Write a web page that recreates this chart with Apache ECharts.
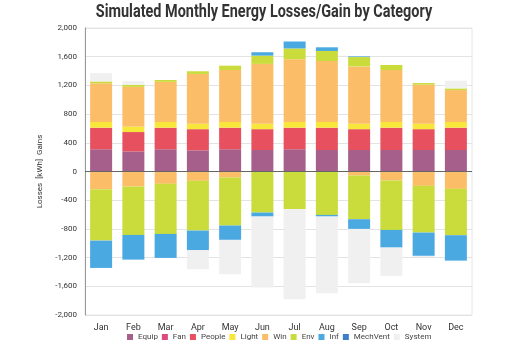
<!DOCTYPE html>
<html>
<head>
<meta charset="utf-8">
<script src="https://cdn.jsdelivr.net/npm/echarts@6/dist/echarts.min.js"></script>
<style>
  html, body { margin: 0; padding: 0; background: #fff; }
  #chart { width: 525px; height: 350px; }
</style>
</head>
<body>
<div id="chart"></div>
<script>
const months = ['Jan', 'Feb', 'Mar', 'Apr', 'May', 'Jun', 'Jul', 'Aug', 'Sep', 'Oct', 'Nov', 'Dec']
const yTicks = [-2000, -1600, -1200, -800, -400, 0, 400, 800, 1200, 1600, 2000]

// gains (kWh)
const equip = [310, 280, 310, 295, 310, 300, 310, 300, 300, 300, 300, 300]
const fan = [0, 0, 0, 0, 0, 0, 0, 0, 0, 0, 0, 0]
const people = [300, 270, 300, 295, 300, 290, 300, 310, 290, 310, 290, 310]
const light = [80, 75, 80, 75, 80, 75, 80, 80, 75, 80, 75, 80]
const winGain = [540, 555, 560, 695, 725, 835, 875, 850, 800, 725, 545, 445]
const envGain = [25, 28, 25, 37, 60, 115, 150, 140, 130, 70, 23, 23]
const infGain = [0, 0, 0, 0, 0, 47, 97, 51, 9, 0, 0, 0]
const mechVentGain = [0, 0, 0, 0, 0, 0, 0, 0, 0, 0, 0, 0]
const systemGain = [117, 51, 0, 0, 0, 0, 0, 0, 0, 0, 0, 108]

// losses (kWh)
const winLoss = [-246, -209, -172, -130, -84, 0, 0, 0, -56, -126, -200, -242]
const envLoss = [-717, -675, -698, -693, -669, -572, -525, -605, -609, -688, -651, -646]
const infLoss = [-381, -344, -334, -274, -200, -56, 0, -23, -135, -246, -325, -354]
const mechVentLoss = [0, 0, 0, 0, 0, 0, 0, 0, 0, 0, 0, 0]
const systemLoss = [0, 0, 0, -265, -479, -990, -1256, -1069, -758, -395, -15, 0]

const colors = {
  Equip: '#a65e8b',
  Fan: '#de4a80',
  People: '#e7505f',
  Light: '#f7e73a',
  Win: '#fbbd68',
  Env: '#c9dc3c',
  Inf: '#4aa9e0',
  MechVent: '#3d7fc6',
  System: '#f0f0f0'
}

const bar = (name, data) => ({
  name: name,
  type: 'bar',
  stack: 'energy',
  barWidth: 22,
  data: data,
  itemStyle: { color: colors[name] }
})

const series = [
  bar('Equip', equip),
  bar('Fan', fan),
  bar('People', people),
  bar('Light', light),
  bar('Win', winGain),
  bar('Env', envGain),
  bar('Inf', infGain),
  bar('MechVent', mechVentGain),
  bar('System', systemGain),
  bar('Win', winLoss),
  bar('Env', envLoss),
  bar('Inf', infLoss),
  bar('MechVent', mechVentLoss),
  bar('System', systemLoss)
]

// zero line drawn over the bars
series[0].markLine = {
  silent: true,
  symbol: 'none',
  label: { show: false },
  lineStyle: { color: '#666', type: 'solid', width: 1 },
  data: [{ yAxis: 0 }]
}

const chart = echarts.init(document.getElementById('chart'))
chart.setOption({
  animation: false,
  graphic: [{
    type: 'text',
    x: 264,
    y: 3,
    scaleX: 0.76,
    style: {
      text: 'Simulated Monthly Energy Losses/Gain by Category',
      font: 'bold 19px Roboto, sans-serif',
      fill: '#333',
      textAlign: 'center'
    }
  }],
  legend: {
    data: Object.keys(colors),
    bottom: 4,
    left: 122,
    icon: 'rect',
    itemWidth: 6,
    itemHeight: 6,
    itemGap: 4,
    textStyle: { fontSize: 8, color: '#444', fontFamily: 'Roboto, sans-serif' }
  },
  grid: { left: 85, right: 53, top: 28, bottom: 35, show: true, borderColor: '#e6e6e6', borderWidth: 1 },
  xAxis: {
    type: 'category',
    data: months,
    axisTick: { show: false },
    axisLine: { show: false, onZero: false },
    axisLabel: { fontSize: 9, color: '#333', fontFamily: 'Roboto, sans-serif', margin: 8 }
  },
  yAxis: {
    type: 'value',
    min: yTicks[0],
    max: yTicks[yTicks.length - 1],
    interval: 400,
    name: 'Losses  [kWh]  Gains',
    nameLocation: 'middle',
    nameGap: 36,
    nameTextStyle: { fontSize: 8, color: '#333', fontFamily: 'Roboto, sans-serif' },
    axisLine: { show: true, lineStyle: { color: '#999' } },
    axisTick: { show: false },
    splitLine: { lineStyle: { color: '#e3e3e3' } },
    axisLabel: {
      fontSize: 8,
      color: '#333',
      fontFamily: 'Roboto, sans-serif',
      formatter: v => v.toLocaleString('en-US')
    }
  },
  series: series
})
</script>
</body>
</html>
